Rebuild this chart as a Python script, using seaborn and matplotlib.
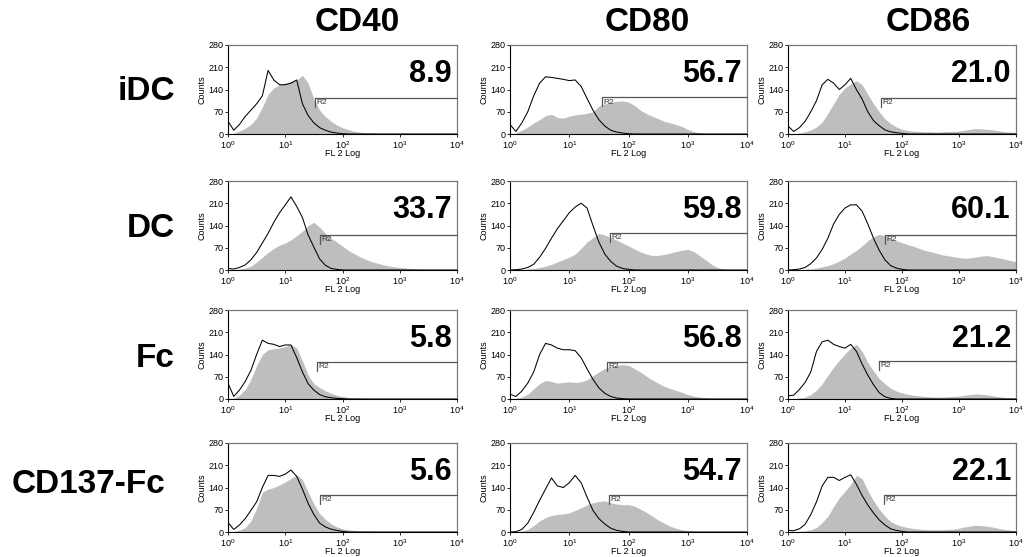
import numpy as np
import matplotlib
matplotlib.use("Agg")
import matplotlib.pyplot as plt
import seaborn as sns
from matplotlib.ticker import FixedLocator, NullLocator, LogFormatterMathtext

sns.set_style("ticks")
plt.rcParams["font.family"] = ["Liberation Sans", "DejaVu Sans"]
plt.rcParams["mathtext.default"] = "regular"
plt.rcParams["text.color"] = "black"
plt.rcParams["axes.labelcolor"] = "black"
plt.rcParams["xtick.color"] = "black"
plt.rcParams["ytick.color"] = "black"

# ---------------- data ----------------
markers = ["CD40", "CD80", "CD86"]
conditions = ["iDC", "DC", "Fc", "CD137-Fc"]

# channel positions (log10 of FL2 intensity)
fl_log = [0.0, 0.1, 0.2, 0.3, 0.4, 0.5, 0.6, 0.7, 0.8, 0.9,
          1.0, 1.1, 1.2, 1.3, 1.4, 1.5, 1.6, 1.7, 1.8, 1.9,
          2.0, 2.1, 2.2, 2.3, 2.4, 2.5, 2.6, 2.7, 2.8, 2.9,
          3.0, 3.1, 3.2, 3.3, 3.4, 3.5, 3.6, 3.7, 3.8, 3.9, 4.0]

# isotype control (black outline) and stained (grey filled) counts
idc_cd40_iso = [40, 12, 30, 55, 75, 95, 120, 200, 170, 155, 155, 160, 170, 95, 58, 35, 20, 12, 6, 3,
                1, 0, 0, 0, 0, 0, 0, 0, 0, 0, 0, 0, 0, 0, 0, 0, 0, 0, 0, 0, 0]
idc_cd40_stain = [0, 3, 10, 18, 30, 50, 85, 125, 145, 155, 160, 165, 170, 185, 160, 110, 75, 55, 40, 28,
                  20, 14, 9, 6, 4, 3, 2, 1, 0, 0, 0, 0, 0, 0, 0, 0, 0, 0, 0, 0, 0]
idc_cd80_iso = [30, 8, 35, 70, 120, 160, 180, 178, 175, 172, 168, 170, 150, 112, 75, 45, 25, 12, 6, 3,
                1, 0, 0, 0, 0, 0, 0, 0, 0, 0, 0, 0, 0, 0, 0, 0, 0, 0, 0, 0, 0]
idc_cd80_stain = [0, 3, 12, 22, 35, 45, 58, 62, 52, 50, 56, 60, 62, 65, 70, 88, 95, 100, 103, 104,
                  100, 90, 75, 64, 56, 48, 40, 35, 30, 24, 14, 8, 4, 2, 1, 0, 0, 0, 0, 0, 0]
idc_cd86_iso = [25, 8, 20, 40, 70, 105, 155, 172, 160, 140, 155, 175, 140, 110, 70, 42, 26, 13, 7, 4,
                2, 0, 0, 0, 0, 0, 0, 0, 0, 0, 0, 0, 0, 0, 0, 0, 0, 0, 0, 0, 0]
idc_cd86_stain = [0, 1, 3, 7, 13, 22, 38, 65, 95, 125, 145, 158, 168, 155, 125, 95, 70, 48, 33, 22,
                  15, 11, 9, 8, 7, 7, 6, 7, 8, 8, 9, 12, 15, 17, 16, 15, 13, 10, 7, 6, 5]

dc_cd40_iso = [5, 3, 8, 16, 32, 55, 85, 115, 150, 180, 205, 230, 200, 165, 110, 72, 35, 15, 5, 2,
               0, 0, 0, 0, 0, 0, 0, 0, 0, 0, 0, 0, 0, 0, 0, 0, 0, 0, 0, 0, 0]
dc_cd40_stain = [0, 1, 3, 6, 12, 25, 40, 55, 68, 78, 85, 95, 108, 122, 140, 150, 135, 115, 100, 88,
                 75, 62, 52, 42, 34, 27, 22, 17, 13, 10, 8, 6, 4, 3, 2, 1, 0, 0, 0, 0, 0]
dc_cd80_iso = [0, 1, 3, 8, 18, 40, 68, 100, 130, 155, 180, 198, 210, 195, 140, 88, 50, 27, 12, 5,
               2, 0, 0, 0, 0, 0, 0, 0, 0, 0, 0, 0, 0, 0, 0, 0, 0, 0, 0, 0, 0]
dc_cd80_stain = [0, 0, 1, 3, 5, 8, 12, 18, 25, 33, 40, 50, 68, 88, 102, 115, 110, 102, 94, 85,
                 76, 66, 57, 50, 46, 46, 49, 53, 58, 62, 65, 58, 45, 32, 18, 8, 3, 1, 0, 0, 0]
dc_cd86_iso = [0, 1, 3, 8, 20, 38, 65, 100, 145, 175, 195, 205, 205, 185, 145, 100, 62, 32, 14, 6,
               2, 0, 0, 0, 0, 0, 0, 0, 0, 0, 0, 0, 0, 0, 0, 0, 0, 0, 0, 0, 0]
dc_cd86_stain = [0, 0, 1, 2, 4, 6, 10, 14, 20, 28, 38, 50, 62, 76, 92, 105, 112, 108, 98, 92,
                 86, 80, 75, 68, 62, 58, 53, 48, 45, 42, 39, 37, 38, 41, 44, 45, 42, 38, 34, 30, 26]

fc_cd40_iso = [50, 8, 28, 55, 90, 140, 185, 175, 172, 165, 170, 170, 130, 85, 48, 28, 14, 7, 4, 2,
               1, 0, 0, 0, 0, 0, 0, 0, 0, 0, 0, 0, 0, 0, 0, 0, 0, 0, 0, 0, 0]
fc_cd40_stain = [0, 3, 12, 30, 62, 105, 140, 155, 158, 160, 165, 172, 160, 120, 75, 48, 36, 26, 18, 12,
                 8, 5, 4, 3, 2, 1, 0, 0, 0, 0, 0, 0, 0, 0, 0, 0, 0, 0, 0, 0, 0]
fc_cd80_iso = [15, 8, 25, 50, 85, 140, 175, 170, 160, 155, 155, 152, 130, 95, 62, 35, 18, 8, 3, 1,
               0, 0, 0, 0, 0, 0, 0, 0, 0, 0, 0, 0, 0, 0, 0, 0, 0, 0, 0, 0, 0]
fc_cd80_stain = [0, 2, 6, 15, 32, 48, 58, 55, 50, 52, 54, 52, 54, 60, 73, 85, 96, 102, 106, 108,
                 106, 96, 85, 72, 60, 50, 40, 33, 27, 21, 14, 9, 6, 4, 2, 1, 0, 0, 0, 0, 0]
fc_cd86_iso = [10, 12, 30, 52, 85, 150, 180, 185, 172, 165, 160, 172, 150, 110, 75, 45, 20, 7, 2, 0,
               0, 0, 0, 0, 0, 0, 0, 0, 0, 0, 0, 0, 0, 0, 0, 0, 0, 0, 0, 0, 0]
fc_cd86_stain = [0, 1, 3, 6, 14, 28, 48, 75, 100, 122, 142, 160, 172, 150, 115, 88, 64, 48, 34, 25,
                 19, 15, 12, 10, 8, 7, 6, 6, 7, 8, 9, 12, 14, 16, 15, 13, 10, 7, 5, 4, 3]

cd137_cd40_iso = [30, 8, 22, 42, 68, 95, 140, 178, 178, 175, 182, 195, 175, 135, 90, 55, 28, 16, 9, 5,
                  2, 0, 0, 0, 0, 0, 0, 0, 0, 0, 0, 0, 0, 0, 0, 0, 0, 0, 0, 0, 0]
cd137_cd40_stain = [0, 2, 6, 14, 35, 75, 125, 135, 140, 148, 158, 168, 180, 165, 125, 88, 58, 40, 26, 16,
                    10, 7, 5, 3, 3, 2, 1, 0, 0, 0, 0, 0, 0, 0, 0, 0, 0, 0, 0, 0, 0]
cd137_cd80_iso = [0, 1, 8, 28, 62, 100, 135, 170, 145, 140, 155, 178, 155, 110, 68, 42, 25, 12, 5, 2,
                  0, 0, 0, 0, 0, 0, 0, 0, 0, 0, 0, 0, 0, 0, 0, 0, 0, 0, 0, 0, 0]
cd137_cd80_stain = [0, 1, 3, 8, 20, 35, 45, 52, 55, 57, 60, 68, 76, 85, 92, 96, 98, 92, 88, 86,
                    86, 82, 72, 62, 50, 38, 28, 18, 12, 7, 4, 2, 1, 0, 0, 0, 0, 0, 0, 0, 0]
cd137_cd86_iso = [5, 4, 10, 24, 55, 95, 145, 172, 172, 162, 172, 180, 150, 115, 85, 60, 38, 22, 10, 5,
                  2, 0, 0, 0, 0, 0, 0, 0, 0, 0, 0, 0, 0, 0, 0, 0, 0, 0, 0, 0, 0]
cd137_cd86_stain = [0, 1, 2, 4, 7, 14, 30, 50, 80, 108, 128, 150, 178, 168, 130, 98, 72, 50, 33, 24,
                    18, 14, 11, 9, 8, 7, 7, 7, 8, 9, 12, 16, 19, 21, 20, 18, 15, 11, 8, 6, 4]

# percent positive in gate R2
pct_positive = [[8.9, 56.7, 21.0],
                [33.7, 59.8, 60.1],
                [5.8, 56.8, 21.2],
                [5.6, 54.7, 22.1]]
# R2 gate start (FL2 value) and gate marker level (counts)
gate_start = [[33, 36, 43], [41, 48, 51], [36, 44, 40], [40, 47, 49]]
gate_level = [[113, 115, 113], [110, 116, 110], [117, 117, 119], [117, 117, 117]]

iso_data = [[idc_cd40_iso, idc_cd80_iso, idc_cd86_iso],
            [dc_cd40_iso, dc_cd80_iso, dc_cd86_iso],
            [fc_cd40_iso, fc_cd80_iso, fc_cd86_iso],
            [cd137_cd40_iso, cd137_cd80_iso, cd137_cd86_iso]]
stain_data = [[idc_cd40_stain, idc_cd80_stain, idc_cd86_stain],
              [dc_cd40_stain, dc_cd80_stain, dc_cd86_stain],
              [fc_cd40_stain, fc_cd80_stain, fc_cd86_stain],
              [cd137_cd40_stain, cd137_cd80_stain, cd137_cd86_stain]]

# ---------------- layout ----------------
W, H = 1025, 557
fig = plt.figure(figsize=(W / 100, H / 100), dpi=100)
fig.patch.set_facecolor("white")

col_left = [228, 510, 788]
col_w = [229, 237, 228]
row_top = [45, 181, 310, 443]
row_h = 89

fl = 10 ** np.array(fl_log)
fill_col = "#bebebe"

for r in range(4):
    for c in range(3):
        l, t, w = col_left[c], row_top[r], col_w[c]
        ax = fig.add_axes([l / W, 1 - (t + row_h) / H, w / W, row_h / H])
        ax.set_facecolor("white")
        ax.set_xscale("log")
        stain = np.array(stain_data[r][c], dtype=float)
        iso = np.array(iso_data[r][c], dtype=float)
        ax.fill_between(fl, stain, 0, color=fill_col, linewidth=0, zorder=1)
        sns.lineplot(x=fl, y=iso, ax=ax, color="black", linewidth=0.75,
                     estimator=None, legend=False, zorder=3)
        ax.set_xlim(1, 1e4)
        ax.set_ylim(0, 280)
        ax.xaxis.set_major_locator(FixedLocator([1, 10, 100, 1000, 10000]))
        ax.xaxis.set_minor_locator(NullLocator())
        ax.xaxis.set_major_formatter(LogFormatterMathtext())
        ax.yaxis.set_major_locator(FixedLocator([0, 70, 140, 210, 280]))
        ax.tick_params(axis="both", length=2.5, width=0.6, pad=1,
                       labelsize=6.5, colors="black", direction="out")
        for s in ["left", "bottom"]:
            ax.spines[s].set_color("black")
            ax.spines[s].set_linewidth(0.8)
        for s in ["top", "right"]:
            ax.spines[s].set_visible(True)
            ax.spines[s].set_color("#7a7a7a")
            ax.spines[s].set_linewidth(0.9)
        ax.set_ylabel("Counts", fontsize=6.5, labelpad=1)
        ax.set_xlabel("FL 2 Log", fontsize=6.5, labelpad=-1)

        # R2 gate marker
        g0, gl = gate_start[r][c], gate_level[r][c]
        ax.plot([g0, 1e4], [gl, gl], color="#555555", linewidth=0.9, zorder=4,
                clip_on=False)
        ax.plot([g0, g0], [gl, gl - 28], color="#555555", linewidth=0.9, zorder=4)
        ax.text(g0 * 1.06, gl - 4, "R2", fontsize=6, va="top", ha="left",
                color="#333333", zorder=5)

        # percentage
        ax.text(0.978, 0.585, f"{pct_positive[r][c]:.1f}", transform=ax.transAxes,
                ha="right", va="baseline", fontsize=22, fontweight="bold",
                color="black", zorder=6)

# column titles
title_x = [357, 647, 928]
for c, name in enumerate(markers):
    fig.text(title_x[c] / W, 1 - 31 / H, name, ha="center", va="baseline",
             fontsize=24, fontweight="bold", color="black")

# row labels
label_right = [175, 175, 175, 165]
label_base = [100, 237, 367, 493]
for r, name in enumerate(conditions):
    fig.text(label_right[r] / W, 1 - label_base[r] / H, name, ha="right",
             va="baseline", fontsize=24, fontweight="bold", color="black")

fig.savefig("out.png", dpi=100, facecolor="white")
